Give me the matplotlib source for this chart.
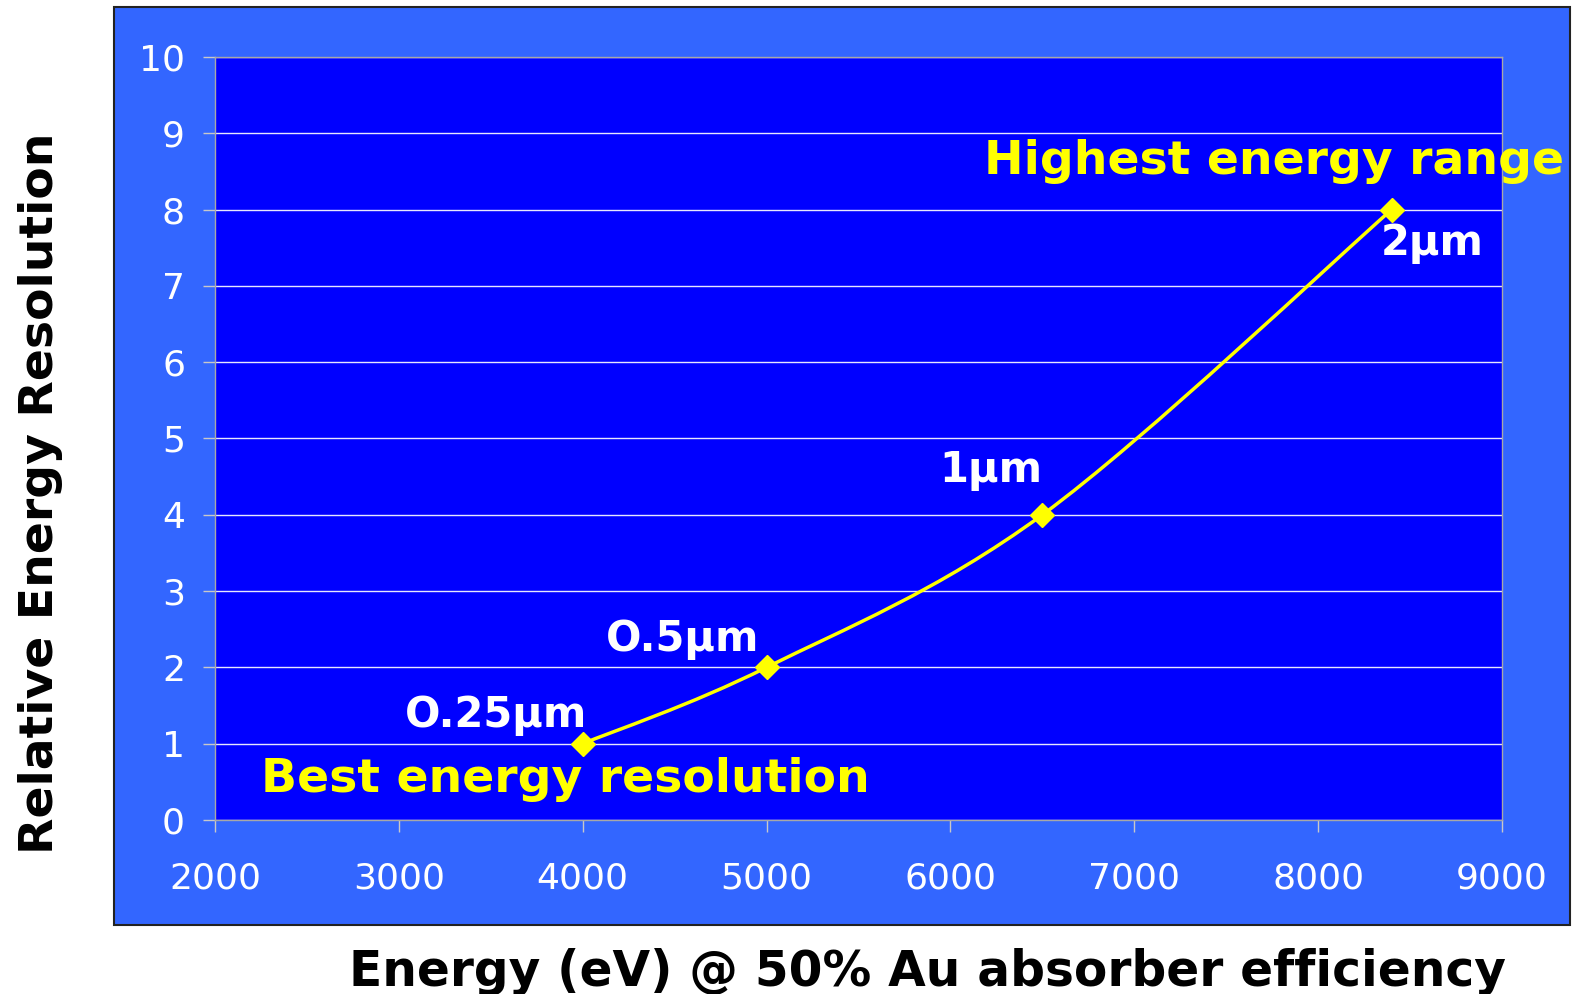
import matplotlib
matplotlib.use("Agg")
import matplotlib.pyplot as plt
import numpy as np
from matplotlib.patches import PathPatch, Rectangle
from matplotlib.path import Path

# data
energy_ev = [4000, 5000, 6500, 8400]
rel_resolution = [1, 2, 4, 8]
thickness_labels = ["O.25µm", "O.5µm", "1µm", "2µm"]
label_pos = [(3030, 1.22), (4125, 2.22), (5940, 4.43), (8340, 7.40)]
x_ticks = [2000, 3000, 4000, 5000, 6000, 7000, 8000, 9000]
y_ticks = list(range(0, 11))

OUTER = "#3366ff"
INNER = "#0000ff"
YELLOW = "#ffff00"

plt.rcParams["font.family"] = ["DejaVu Sans"]


def smooth_path(xs, ys):
    # Excel style smoothed line: Catmull-Rom segments as cubic Bezier curves
    pts = np.column_stack([xs, ys]).astype(float)
    padded = np.vstack([pts[0], pts, pts[-1]])
    verts = [pts[0]]
    codes = [Path.MOVETO]
    for i in range(1, len(padded) - 2):
        p0, p1, p2, p3 = padded[i - 1], padded[i], padded[i + 1], padded[i + 2]
        verts += [p1 + (p2 - p0) / 6, p2 - (p3 - p1) / 6, p2]
        codes += [Path.CURVE4] * 3
    return Path(verts, codes)


fig = plt.figure(figsize=(15.74, 9.94), dpi=100)
fig.patch.set_facecolor("white")
fig.patches.append(Rectangle((0.0724, 0.0694), 0.9250, 0.9235, transform=fig.transFigure,
                             facecolor=OUTER, edgecolor="#222222", linewidth=1.5, zorder=-5))

ax = fig.add_axes([0.1366, 0.1751, 0.8177, 0.7676])
ax.set_zorder(1)
ax.set_facecolor(INNER)
ax.set_xlim(2000, 9000)
ax.set_ylim(0, 10)
ax.set_xticks(x_ticks)
ax.set_yticks(y_ticks)
ax.grid(axis="y", color="#e6e6ff", linewidth=1.0)
ax.set_axisbelow(True)
for side in ax.spines.values():
    side.set_color("#a8a8a8")
    side.set_linewidth(1.0)
ax.tick_params(axis="both", colors="#c8c8c8", length=8.6, width=1.0,
               labelcolor="white", labelsize=26)
ax.tick_params(axis="x", pad=21)
ax.tick_params(axis="y", pad=13)

ax.add_patch(PathPatch(smooth_path(energy_ev, rel_resolution), facecolor="none",
                       edgecolor=YELLOW, linewidth=2.5, zorder=3))
ax.plot(energy_ev, rel_resolution, linestyle="none", marker="D", markersize=12,
        color=YELLOW, zorder=4, clip_on=False)

for text, (tx, ty) in zip(thickness_labels, label_pos):
    ax.text(tx, ty, text, color="white", fontsize=30, fontweight="bold",
            ha="left", va="baseline")

ax.text(6185, 8.46, "Highest energy range", color=YELLOW, fontsize=34,
        fontweight="bold", ha="left", va="baseline")
ax.text(2250, 0.37, "Best energy resolution", color=YELLOW, fontsize=34,
        fontweight="bold", ha="left", va="baseline")

fig.text(0.026, 0.504, "Relative Energy Resolution", rotation=90, fontsize=34,
         fontweight="bold", ha="center", va="center", color="black")
fig.text(0.589, 0.008, "Energy (eV) @ 50% Au absorber efficiency", fontsize=35,
         fontweight="bold", ha="center", va="baseline", color="black")

fig.savefig("out.png", dpi=100)
